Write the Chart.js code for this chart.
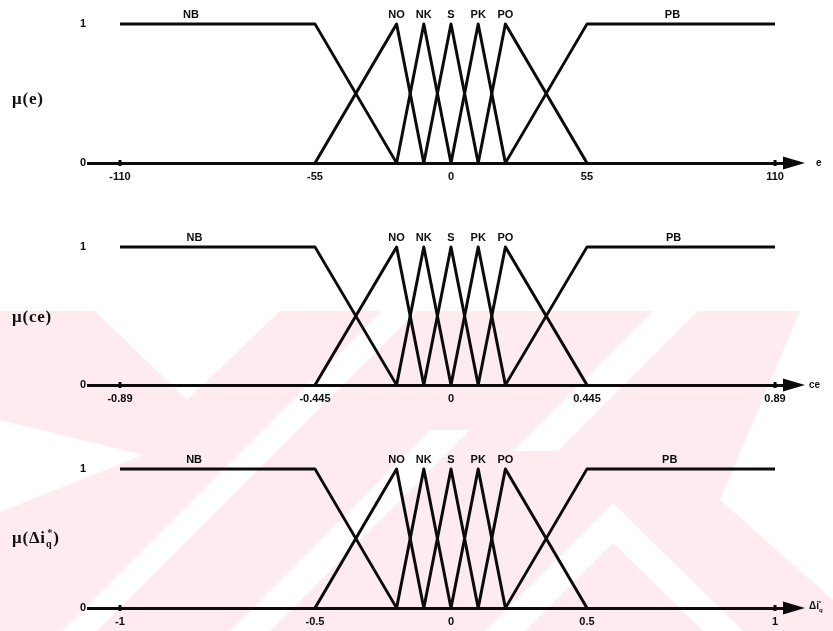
<!DOCTYPE html>
<html>
<head>
<meta charset="utf-8">
<script src="https://cdn.jsdelivr.net/npm/chart.js@4/dist/chart.umd.min.js"></script>
<style>
  html, body { margin: 0; padding: 0; background: #fff; }
  #page { position: relative; width: 833px; height: 631px; overflow: hidden; }
  #page canvas { position: absolute; left: 0; }
  .mu { position: absolute; left: 12px; font: bold 17px "Liberation Serif", "DejaVu Serif", serif; color: #111; letter-spacing: 0.8px; white-space: nowrap; }
  .var { position: absolute; font: bold 10px "Liberation Sans", Arial, sans-serif; color: #111; white-space: nowrap; }
  .mu sub, .mu sup, .var sub, .var sup { font-size: 60%; line-height: 0; }
</style>
</head>
<body>
<div id="page">
  <canvas id="bg" width="833" height="631" style="top:0"></canvas>
  <canvas id="c1" width="833" height="205" style="top:0"></canvas>
  <canvas id="c2" width="833" height="210" style="top:205px"></canvas>
  <canvas id="c3" width="833" height="216" style="top:415px"></canvas>

  <div class="mu" style="top:89px">&mu;(e)</div>
  <div class="mu" style="top:307px">&mu;(ce)</div>
  <div class="mu" style="top:528px">&mu;(&Delta;i<sub>q</sub><sup style="margin-left:-5px">*</sup>)</div>

  <div class="var" style="left:816px; top:157px">e</div>
  <div class="var" style="left:809px; top:379px">ce</div>
  <div class="var" style="left:809px; top:600px">&Delta;i<sub>q</sub><sup style="margin-left:-4px">*</sup></div>
</div>

<script>
// Linguistic terms shared by all three variables
const termNames = ['NB', 'NO', 'NK', 'S', 'PK', 'PO', 'PB'];
// Membership degree at each corner of a term (shoulders for NB / PB, triangles between)
const termMu = [[1, 1, 0], [0, 1, 0], [0, 1, 0], [0, 1, 0], [0, 1, 0], [0, 1, 0], [0, 1, 1]];

// Error e
const eTicks = [-110, -55, 0, 55, 110];
const eTickLabels = ['-110', '-55', '0', '55', '110'];
const eCorners = [[-110, -55, -22], [-55, -22, -11], [-22, -11, 0], [-11, 0, 11], [0, 11, 22], [11, 22, 55], [22, 55, 110]];
const eLabelAt = [-90, -22, -11, 0, 11, 22, 80];

// Change of error ce
const ceTicks = [-0.89, -0.445, 0, 0.445, 0.89];
const ceTickLabels = ['-0.89', '-0.445', '0', '0.445', '0.89'];
const ceCorners = [[-0.89, -0.445, -0.178], [-0.445, -0.178, -0.089], [-0.178, -0.089, 0], [-0.089, 0, 0.089], [0, 0.089, 0.178], [0.089, 0.178, 0.445], [0.178, 0.445, 0.89]];
const ceLabelAt = [-0.72, -0.178, -0.089, 0, 0.089, 0.178, 0.65];

// Output Δi_q*
const dqTicks = [-1, -0.5, 0, 0.5, 1];
const dqTickLabels = ['-1', '-0.5', '0', '0.5', '1'];
const dqCorners = [[-1, -0.5, -0.2], [-0.5, -0.2, -0.1], [-0.2, -0.1, 0], [-0.1, 0, 0.1], [0, 0.1, 0.2], [0.1, 0.2, 0.5], [0.2, 0.5, 1]];
const dqLabelAt = [-0.81, -0.2, -0.1, 0, 0.1, 0.2, 0.72];

const INK = '#0b0b0b';
const FONT = '"Liberation Sans", Arial, sans-serif';

// A linear axis whose segments between the break values get their own share of the width
class PiecewiseScale extends Chart.LinearScale {
  static id = 'piecewise';
  static defaults = Chart.LinearScale.defaults;
  buildTicks() {
    return this.options.breaks.map(v => ({ value: v }));
  }
  _segment(v) {
    const b = this.options.breaks;
    let i = 0;
    while (i < b.length - 2 && v > b[i + 1]) i++;
    return i;
  }
  getPixelForValue(v) {
    const b = this.options.breaks, f = this.options.fractions;
    const i = this._segment(v);
    const frac = f[i] + (v - b[i]) * (f[i + 1] - f[i]) / (b[i + 1] - b[i]);
    return this.left + this.width * frac;
  }
  getValueForPixel(p) {
    const b = this.options.breaks, f = this.options.fractions;
    const frac = (p - this.left) / this.width;
    let i = 0;
    while (i < f.length - 2 && frac > f[i + 1]) i++;
    return b[i] + (frac - f[i]) * (b[i + 1] - b[i]) / (f[i + 1] - f[i]);
  }
}
Chart.register(PiecewiseScale);

// Arrow at the end of the horizontal axis, small marks on the outer ticks, term names
const decorations = {
  id: 'decorations',
  afterDatasetsDraw(chart, args, opts) {
    const { ctx, chartArea } = chart;
    const xs = chart.scales.x, ys = chart.scales.y;
    const y0 = ys.getPixelForValue(0);
    const y1 = ys.getPixelForValue(1);
    ctx.save();
    ctx.fillStyle = INK;
    // arrow head
    ctx.beginPath();
    ctx.moveTo(chartArea.right - 2, y0 - 6.5);
    ctx.lineTo(chartArea.right + 20, y0);
    ctx.lineTo(chartArea.right - 2, y0 + 6.5);
    ctx.closePath();
    ctx.fill();
    // outer tick marks
    const b = xs.options.breaks;
    [b[0], b[b.length - 1]].forEach(v => {
      const px = xs.getPixelForValue(v);
      ctx.fillRect(px - 1.5, y0 - 3, 3, 6);
    });
    // term names above the peaks / shoulders
    ctx.font = 'bold 11px ' + FONT;
    ctx.textAlign = 'center';
    ctx.textBaseline = 'bottom';
    opts.labelAt.forEach((v, i) => {
      ctx.fillText(termNames[i], xs.getPixelForValue(v), y1 - 4);
    });
    ctx.restore();
  }
};

function makeChart(id, corners, ticks, tickLabels, labelAt, canvasTop, canvasHeight, oneY, zeroY) {
  const datasets = corners.map((xsVals, i) => ({
    label: termNames[i],
    data: xsVals.map((x, j) => ({ x: x, y: termMu[i][j] })),
    borderColor: INK,
    borderWidth: i === 0 || i === 6 ? 2.8 : 3,
    borderJoinStyle: 'round',
    pointRadius: 0,
    tension: 0,
    fill: false,
    clip: false
  }));
  return new Chart(document.getElementById(id), {
    type: 'line',
    data: { datasets },
    options: {
      responsive: false,
      animation: false,
      events: [],
      layout: { padding: { top: oneY - canvasTop, right: 48, left: 0, bottom: 0 } },
      plugins: { legend: { display: false }, tooltip: { enabled: false }, decorations: { labelAt } },
      scales: {
        x: {
          type: 'piecewise',
          min: ticks[0],
          max: ticks[ticks.length - 1],
          breaks: ticks,
          fractions: [0.0459, 0.3257, 0.5208, 0.7159, 0.9857],
          grid: { display: false, drawTicks: false },
          border: { display: true, color: INK, width: 3 },
          ticks: {
            autoSkip: false,
            maxRotation: 0,
            padding: 7,
            color: INK,
            font: { family: FONT, size: 11, weight: 'bold' },
            callback: (value, index) => tickLabels[index]
          },
          afterFit: s => { s.height = canvasHeight - (zeroY - canvasTop); }
        },
        y: {
          type: 'linear',
          min: 0,
          max: 1,
          grid: { display: false, drawTicks: false },
          border: { display: false },
          ticks: {
            stepSize: 1,
            padding: 2,
            color: INK,
            font: { family: FONT, size: 11, weight: 'bold' },
            callback: v => (v === 0 || v === 1) ? String(v) : ''
          },
          afterFit: s => { s.width = 88; }
        }
      }
    },
    plugins: [decorations]
  });
}

// Faint diagonal-band backdrop behind the lower two panels
function drawBackdrop() {
  const ctx = document.getElementById('bg').getContext('2d');
  ctx.fillStyle = '#fdebef';
  ctx.fillRect(0, 311, 833, 320);
  ctx.fillStyle = '#ffffff';
  const shapes = [
    [[95, 311], [280, 311], [187, 400]],
    [[0, 420], [143, 455], [0, 512]],
    [[382, 311], [417, 311], [97, 631], [62, 631]],
    [[430, 430], [470, 430], [270, 631], [230, 631]],
    [[653, 311], [698, 311], [558, 451], [513, 451]],
    [[613, 503], [743, 631], [703, 631], [613, 543], [525, 631], [485, 631]],
    [[800, 311], [833, 311], [833, 600], [720, 500]]
  ];
  shapes.forEach(poly => {
    ctx.beginPath();
    poly.forEach(([x, y], k) => (k ? ctx.lineTo(x, y) : ctx.moveTo(x, y)));
    ctx.closePath();
    ctx.fill();
  });
}

drawBackdrop();
makeChart('c1', eCorners, eTicks, eTickLabels, eLabelAt, 0, 205, 24, 163);
makeChart('c2', ceCorners, ceTicks, ceTickLabels, ceLabelAt, 205, 210, 247, 385);
makeChart('c3', dqCorners, dqTicks, dqTickLabels, dqLabelAt, 415, 216, 469, 608);
</script>
</body>
</html>
